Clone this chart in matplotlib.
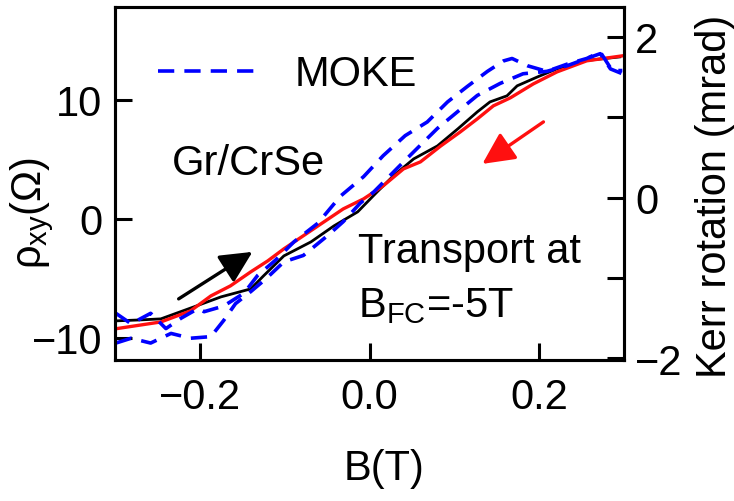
import matplotlib
matplotlib.use('Agg')
import matplotlib.pyplot as plt

plt.rcParams['font.family'] = ['Liberation Sans', 'DejaVu Sans']
plt.rcParams['mathtext.fontset'] = 'custom'
plt.rcParams['mathtext.rm'] = 'Liberation Sans'
plt.rcParams['mathtext.it'] = 'Liberation Sans'
plt.rcParams['mathtext.bf'] = 'Liberation Sans:bold'
plt.rcParams['font.size'] = 30

# Transport, field sweep up (black) -- B in T, rho_xy in Ohm
b_up = [-0.300, -0.271, -0.246, -0.207, -0.175, -0.140, -0.125, -0.101, -0.069, -0.042,
        -0.014, 0.009, 0.028, 0.052, 0.080, 0.104, 0.127, 0.142, 0.162, 0.174,
        0.198, 0.221, 0.252, 0.295]
rho_up = [-8.57, -8.49, -8.40, -7.39, -6.55, -5.88, -4.79, -3.11, -1.93, -0.59,
          0.59, 2.27, 3.61, 5.04, 6.13, 7.56, 8.99, 9.83, 10.34, 11.18,
          11.93, 12.61, 13.28, 13.61]

# Transport, field sweep down (red)
b_down = [-0.300, -0.246, -0.211, -0.187, -0.164, -0.140, -0.120, -0.101, -0.066, -0.031,
          -0.007, 0.016, 0.040, 0.060, 0.084, 0.107, 0.127, 0.146, 0.166, 0.193,
          0.221, 0.256, 0.298]
rho_down = [-9.24, -8.66, -7.73, -6.47, -5.63, -4.45, -3.53, -2.52, -0.84, 0.84,
            1.68, 2.77, 4.20, 4.79, 6.13, 7.31, 8.40, 9.50, 10.17, 11.34,
            12.35, 13.28, 13.70]

# MOKE, Kerr rotation in mrad (two branches of the loop)
b_moke1 = [-0.299, -0.281, -0.258, -0.234, -0.211, -0.187, -0.172, -0.158, -0.140, -0.122,
           -0.101, -0.078, -0.049, -0.031, -0.011, 0.005, 0.021, 0.036, 0.056, 0.080,
           0.104, 0.127, 0.154, 0.181, 0.209, 0.233, 0.256, 0.272, 0.284, 0.298]
kerr_moke1 = [-1.81, -1.75, -1.81, -1.69, -1.75, -1.73, -1.53, -1.32, -1.17, -1.01,
              -0.80, -0.72, -0.47, -0.30, -0.07, 0.07, 0.24, 0.40, 0.61, 0.86,
              1.07, 1.27, 1.42, 1.54, 1.57, 1.64, 1.73, 1.79, 1.60, 1.54]

b_moke2 = [-0.299, -0.281, -0.258, -0.240, -0.222, -0.202, -0.195, -0.172, -0.148, -0.132,
           -0.111, -0.089, -0.061, -0.034, -0.007, 0.016, 0.042, 0.068, 0.092, 0.115,
           0.139, 0.158, 0.168, 0.186, 0.209, 0.233, 0.256, 0.272, 0.286, 0.298]
kerr_moke2 = [-1.44, -1.57, -1.44, -1.63, -1.50, -1.38, -1.42, -1.35, -1.19, -0.97,
              -0.78, -0.55, -0.32, 0.02, 0.26, 0.52, 0.77, 0.94, 1.19, 1.38,
              1.57, 1.70, 1.73, 1.64, 1.57, 1.66, 1.73, 1.81, 1.58, 1.58]

# sweep direction arrows (tail, head) in data units of the left axis
arrow_up = ((-0.225, -6.72), (-0.138, -2.77))
arrow_down = ((0.205, 8.15), (0.133, 4.62))

fig = plt.figure(figsize=(7.34, 5.02), dpi=100)
ax = fig.add_axes([0.1567, 0.281, 0.6935, 0.703])
ax2 = ax.twinx()

ax.plot(b_up, rho_up, color='black', lw=2.0)
ax.plot(b_down, rho_down, color='#ff1010', lw=2.4)

dash = (4.5, 2.8)
ax2.plot(b_moke1, kerr_moke1, color='#0000ff', lw=2.6, dashes=dash, label='MOKE')
ax2.plot(b_moke2, kerr_moke2, color='#0000ff', lw=2.6, dashes=dash)

for (tail, head), col in [(arrow_up, 'black'), (arrow_down, '#ff1010')]:
    ax.annotate('', xy=head, xytext=tail,
                arrowprops=dict(arrowstyle='-|>,head_length=0.65,head_width=0.32',
                                mutation_scale=30, lw=2.4, color=col,
                                shrinkA=0, shrinkB=0))

ax.set_xlim(-0.3, 0.3)
ax.set_ylim(-11.85, 17.8)
ax2.set_ylim(-2.02, 2.37)

ax.set_xticks([-0.2, 0.0, 0.2])
ax.set_xticklabels(['\u22120.2', '0.0', '0.2'])
ax.set_yticks([-10, 0, 10])
ax2.set_yticks([-2, 0, 2])
ax2.set_yticks([-1, 1], minor=True)

ax.tick_params(axis='both', which='both', direction='in', length=12, width=2.2)
ax.tick_params(axis='x', pad=12)
ax.tick_params(axis='y', pad=9, right=False)
ax2.tick_params(axis='y', which='both', direction='in', length=12, width=2.2, pad=8)
for a in (ax, ax2):
    for sp in a.spines.values():
        sp.set_linewidth(2.2)

ax.set_xlabel('B(T)')
ax.xaxis.set_label_coords(0.528, -0.25)
ax.set_ylabel(r'$\rho_{\rm xy}(\Omega)$')
ax.yaxis.set_label_coords(-0.115, 0.42)
ax2.set_ylabel('Kerr rotation (mrad)')
ax2.yaxis.set_label_coords(1.14, 0.465)

ax.text(0.112, 0.527, 'Gr/CrSe', transform=ax.transAxes, va='baseline')
ax.text(0.477, 0.278, 'Transport at', transform=ax.transAxes, va='baseline')
ax.text(0.477, 0.125, r'B$_{\rm FC}$=-5T', transform=ax.transAxes, va='baseline')

ax2.legend(loc='center left', bbox_to_anchor=(0.084, 0.81), frameon=False,
           borderpad=0, borderaxespad=0, handlelength=2.45, handletextpad=0.84)

fig.savefig('out.png', dpi=100)
